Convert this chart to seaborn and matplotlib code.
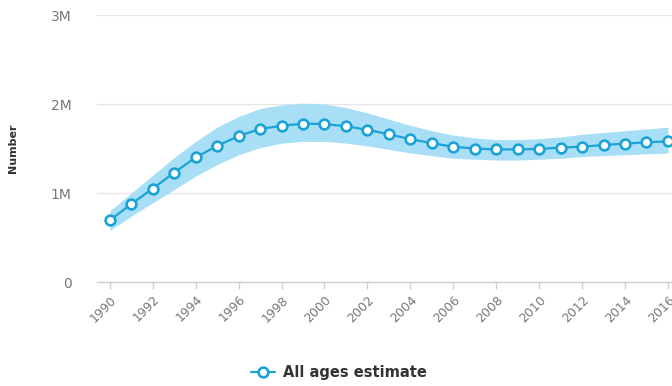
import matplotlib
matplotlib.use("Agg")
import matplotlib.pyplot as plt
from matplotlib.lines import Line2D
import seaborn as sns
import pandas as pd

years = list(range(1990, 2017))
estimate = [0.695, 0.876, 1.05, 1.23, 1.40, 1.53, 1.64, 1.72, 1.755, 1.78, 1.775,
            1.75, 1.71, 1.66, 1.605, 1.56, 1.52, 1.50, 1.49, 1.49, 1.495, 1.51,
            1.52, 1.54, 1.555, 1.57, 1.58]
lower = [0.58, 0.74, 0.89, 1.04, 1.19, 1.32, 1.43, 1.51, 1.56, 1.58, 1.58,
         1.56, 1.53, 1.49, 1.45, 1.42, 1.39, 1.38, 1.37, 1.37, 1.38, 1.39,
         1.41, 1.42, 1.43, 1.44, 1.45]
upper = [0.80, 1.00, 1.20, 1.40, 1.58, 1.74, 1.86, 1.95, 1.99, 2.01, 2.00,
         1.96, 1.90, 1.83, 1.76, 1.70, 1.65, 1.62, 1.60, 1.60, 1.61, 1.63,
         1.66, 1.68, 1.70, 1.72, 1.74]
y_ticks = [0, 1e6, 2e6, 3e6]
y_tick_labels = ["0", "1M", "2M", "3M"]
series_name = "All ages estimate"

df = pd.DataFrame({
    "year": years,
    "value": [v * 1e6 for v in estimate],
    "lo": [v * 1e6 for v in lower],
    "hi": [v * 1e6 for v in upper],
})

sns.set_style("white")
plt.rcParams["font.family"] = ["DejaVu Sans"]

line_color = "#1ba3d8"
band_color = "#9fdcf5"

fig = plt.figure(figsize=(6.72, 3.86), dpi=100)
ax = fig.add_axes([0.144, 0.2694, 0.856, 0.6917])

# uncertainty interval behind the estimate line
ax.fill_between(df["year"], df["lo"], df["hi"], color=band_color, alpha=0.9,
                linewidth=0, zorder=1)
sns.lineplot(data=df, x="year", y="value", ax=ax, color=line_color, linewidth=1.6,
             marker="o", markersize=7, markerfacecolor="white",
             markeredgecolor=line_color, markeredgewidth=1.9, zorder=3,
             legend=False)

ax.set_xlim(1989.39, 2016.19)
ax.set_ylim(0, 3e6)
ax.set_yticks(y_ticks)
ax.set_yticklabels(y_tick_labels)
ax.set_xticks(years[::2])
ax.set_xticklabels([str(y) for y in years[::2]], rotation=45, ha="right",
                   rotation_mode="anchor")

ax.grid(axis="y", color="#e6e6e6", linewidth=1.0)
ax.grid(axis="x", visible=False)
for side in ["top", "right", "left"]:
    ax.spines[side].set_visible(False)
ax.spines["bottom"].set_color("#cfcfcf")
ax.spines["bottom"].set_linewidth(1.0)

ax.tick_params(axis="y", length=0, pad=18, labelsize=10, labelcolor="#777777")
ax.tick_params(axis="x", length=5, width=1, color="#cfcfcf", pad=3,
               labelsize=9, labelcolor="#777777", bottom=True)

ax.set_xlabel("")
ax.set_ylabel("Number", fontsize=8, fontweight="bold", color="#333333", labelpad=24)

handle = Line2D([0], [0], color=line_color, linewidth=1.6, marker="o",
                markersize=7, markerfacecolor="white", markeredgecolor=line_color,
                markeredgewidth=1.9)
fig.legend([handle], [series_name], loc="center", bbox_to_anchor=(0.505, 0.035),
           frameon=False, handlelength=1.6, handletextpad=0.6,
           prop={"size": 10.5, "weight": "bold"}, labelcolor="#333333")

fig.savefig("out.png", dpi=100)
